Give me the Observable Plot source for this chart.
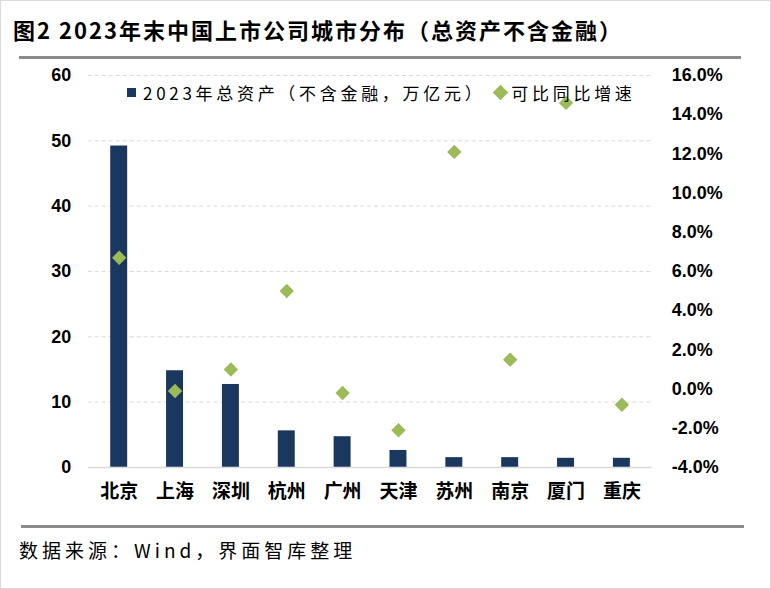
<!DOCTYPE html>
<html><head><meta charset="utf-8">
<script src="https://cdn.jsdelivr.net/npm/d3@7"></script>
<script src="https://cdn.jsdelivr.net/npm/@observablehq/plot@0.6"></script>
<style>
html,body{margin:0;padding:0;background:#fff;}
#wrap{position:relative;width:771px;height:589px;box-sizing:border-box;border:1px solid #d9d9d9;overflow:hidden;font-family:"Liberation Sans","Noto Sans CJK SC",sans-serif;}
#title{position:absolute;left:12px;top:12px;font-size:22px;font-weight:bold;letter-spacing:2px;white-space:nowrap;color:#000;font-family:"Noto Sans CJK SC",sans-serif;}
.hline{position:absolute;height:3px;background:#8c8c8c;}
#caption{position:absolute;left:18px;top:535px;font-size:19px;letter-spacing:4px;white-space:nowrap;color:#000;font-family:"Noto Sans CJK SC",sans-serif;}
#chart{position:absolute;left:0;top:60px;}
#legend{position:absolute;top:79px;left:126px;font-size:17px;letter-spacing:3.7px;white-space:nowrap;font-family:"Noto Sans CJK SC",sans-serif;display:flex;align-items:center;}
.sq{display:inline-block;width:9px;height:9px;background:#1a375e;margin-right:7px;}
.dm{display:inline-block;width:11px;height:11px;background:#9bbb59;transform:rotate(45deg);margin:0 5px 0 10px;}
</style></head>
<body>
<div id="wrap">
  <div id="title">图2 2023年末中国上市公司城市分布（总资产不含金融）</div>
  <div class="hline" style="left:18px;top:55px;width:722px;"></div>
  <div id="chart"></div>
  <div id="legend"><span class="sq"></span><span id="l1"></span><span class="dm"></span><span id="l2"></span></div>
  <div class="hline" style="left:20px;top:524px;width:723px;"></div>
  <div id="caption">数据来源：Wind，界面智库整理</div>
</div>
<script>
const cities = ["北京","上海","深圳","杭州","广州","天津","苏州","南京","厦门","重庆"];
const assets = [49.2, 14.8, 12.7, 5.6, 4.7, 2.6, 1.5, 1.5, 1.4, 1.4];
const growth = [6.7, -0.1, 1.0, 5.0, -0.2, -2.1, 12.1, 1.5, 14.6, -0.8];
const leftTicks = [0, 10, 20, 30, 40, 50, 60];
const rightTicks = [-4, -2, 0, 2, 4, 6, 8, 10, 12, 14, 16];
const seriesNames = ["2023年总资产（不含金融，万亿元）", "可比同比增速"];

document.getElementById("l1").textContent = seriesNames[0];
document.getElementById("l2").textContent = seriesNames[1];

// right axis (-4%..16%) mapped onto left domain (0..60)
const toLeft = g => (g + 4) * 3;
const data = cities.map((c, i) => ({city: c, assets: assets[i], growth: growth[i]}));

const chart = Plot.plot({
  width: 771,
  height: 455,
  marginTop: 14,
  marginBottom: 48,
  marginLeft: 87,
  marginRight: 119,
  style: {fontFamily: "'Liberation Sans','Noto Sans CJK SC',sans-serif", background: "transparent", color: "#000"},
  x: {domain: cities, padding: 0, label: null},
  y: {domain: [0, 60], label: null},
  marks: [
    Plot.ruleY(leftTicks.filter(d => d > 0), {stroke: "#d9d9d9", strokeDasharray: "4,3"}),
    Plot.barY(data, {x: "city", y: "assets", fill: "#1a375e", insetLeft: 19.5, insetRight: 19.5}),
    Plot.ruleY([0], {stroke: "#d9d9d9", strokeWidth: 1.5}),
    Plot.dot(data, {x: "city", y: d => toLeft(d.growth), symbol: "diamond2", r: 6.5, fill: "#9bbb59", stroke: null}),
    Plot.axisY(leftTicks, {anchor: "left", tickSize: 0, tickPadding: 17, fontSize: 18, fontWeight: "bold", label: null}),
    Plot.axisY(rightTicks.map(toLeft), {anchor: "right", tickSize: 0, tickPadding: 20, fontSize: 18, fontWeight: "bold", label: null,
      tickFormat: v => rightTicks[Math.round(v / 6)].toFixed(1) + "%"}),
    Plot.axisX({tickSize: 0, tickPadding: 17, fontSize: 19, fontWeight: "bold", label: null, fontFamily: "'Noto Sans CJK SC',sans-serif"})
  ]
});
document.getElementById("chart").appendChild(chart);
</script>
</body></html>
